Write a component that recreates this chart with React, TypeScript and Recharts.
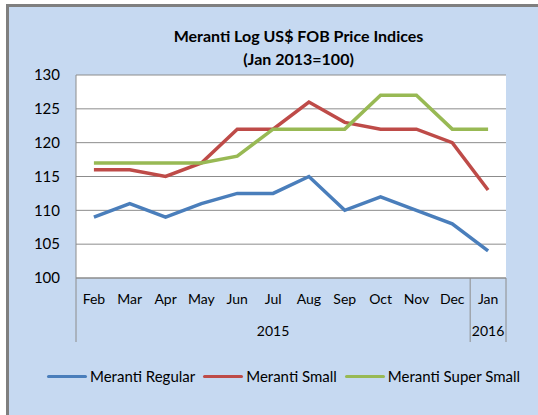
import React from 'react';
import { LineChart, Line, XAxis, YAxis, CartesianGrid } from 'recharts';

const months = ['Feb', 'Mar', 'Apr', 'May', 'Jun', 'Jul', 'Aug', 'Sep', 'Oct', 'Nov', 'Dec', 'Jan'];
const years = ['2015', '2015', '2015', '2015', '2015', '2015', '2015', '2015', '2015', '2015', '2015', '2016'];
const merantiRegular = [109, 111, 109, 111, 112.5, 112.5, 115, 110, 112, 110, 108, 104];
const merantiSmall = [116, 116, 115, 117, 122, 122, 126, 123, 122, 122, 120, 113];
const merantiSuperSmall = [117, 117, 117, 117, 118, 122, 122, 122, 127, 127, 122, 122];
const yTicks = [100, 105, 110, 115, 120, 125, 130];

const series = [
  { key: 'regular', name: 'Meranti Regular', color: '#4A7EBB' },
  { key: 'small', name: 'Meranti Small', color: '#BE4B48' },
  { key: 'superSmall', name: 'Meranti Super Small', color: '#98B954' },
];

const data = months.map((m, i) => ({
  month: m,
  year: years[i],
  regular: merantiRegular[i],
  small: merantiSmall[i],
  superSmall: merantiSuperSmall[i],
}));

const FONT = 'Lato, "Noto Sans", sans-serif';
const AXIS_GRAY = '#8c8c8c';

const MonthTick = (props: any) => {
  const { x, y, payload } = props;
  return (
    <text x={x} y={y} dy={26} textAnchor="middle" fontSize={14} fontFamily={FONT} fill="#000">
      {payload.value}
    </text>
  );
};

// year row: label in the middle of each group, separators at group edges
const YearTick = (props: any) => {
  const { x, y, index, payload } = props;
  const half = payload.offset || 0;
  const yr = years[index];
  const start = years.indexOf(yr);
  const end = years.lastIndexOf(yr);
  const mid = (start + end) / 2;
  const els: React.ReactNode[] = [];
  if (index === start) {
    els.push(<line key="l" x1={x - half} x2={x - half} y1={y - 32} y2={y + 32} stroke={AXIS_GRAY} />);
  }
  if (index === years.length - 1) {
    els.push(<line key="r" x1={x + half} x2={x + half} y1={y - 32} y2={y + 32} stroke={AXIS_GRAY} />);
  }
  if (index === Math.ceil(mid)) {
    const tx = index === mid ? x : x - half;
    els.push(
      <text key="t" x={tx} y={y} dy={26} textAnchor="middle" fontSize={14} fontFamily={FONT} fill="#000">
        {yr}
      </text>
    );
  }
  return <g>{els}</g>;
};

const ChartLegend = () => (
  <div
    style={{
      position: 'absolute',
      left: 47,
      top: 366,
      display: 'flex',
      alignItems: 'center',
      fontFamily: FONT,
      fontSize: 15,
      lineHeight: '20px',
      color: '#000',
    }}
  >
    {series.map((s) => (
      <div key={s.key} style={{ display: 'flex', alignItems: 'center', marginRight: 8 }}>
        <div style={{ width: 40, height: 3, background: s.color, marginRight: 3, borderRadius: 2 }} />
        <span>{s.name}</span>
      </div>
    ))}
  </div>
);

export default function App() {
  return (
    <div style={{ position: 'absolute', left: 0, top: 0, width: 538, height: 415, overflow: 'hidden' }}>
      <div
        style={{
          position: 'absolute',
          left: 6,
          top: 4,
          width: 540,
          height: 420,
          background: '#C6D9F1',
          borderLeft: '3px solid #7f7f7f',
          borderTop: '3px solid #7f7f7f',
        }}
      />
      <div
        style={{
          position: 'absolute',
          left: 0,
          top: 24,
          width: 597,
          textAlign: 'center',
          fontFamily: FONT,
          fontWeight: 700,
          fontSize: 16,
          lineHeight: '23px',
          color: '#000',
        }}
      >
        Meranti Log US$ FOB Price Indices
        <br />
        (Jan 2013=100)
      </div>
      <div style={{ position: 'absolute', left: 0, top: 0 }}>
        <LineChart width={538} height={415} data={data} margin={{ top: 75, right: 32, bottom: 73, left: 0 }}>
          <CartesianGrid vertical={false} stroke={AXIS_GRAY} fill="#ffffff" />
          <YAxis
            width={76}
            domain={[100, 130]}
            ticks={yTicks}
            interval={0}
            tickLine={false}
            tickSize={0}
            tickMargin={16}
            axisLine={{ stroke: AXIS_GRAY }}
            tick={{ fontSize: 15, fontFamily: FONT, fill: '#000' }}
          />
          <XAxis
            dataKey="month"
            scale="band"
            height={32}
            interval={0}
            tickLine={false}
            tickSize={0}
            tickMargin={0}
            axisLine={{ stroke: AXIS_GRAY }}
            tick={<MonthTick />}
          />
          <XAxis
            xAxisId="year"
            dataKey="month"
            scale="band"
            height={32}
            interval={0}
            tickLine={false}
            tickSize={0}
            tickMargin={0}
            axisLine={false}
            tick={<YearTick />}
          />
          {series.map((s) => (
            <Line
              key={s.key}
              type="linear"
              dataKey={s.key}
              name={s.name}
              stroke={s.color}
              strokeWidth={3.5}
              dot={false}
              activeDot={false}
              isAnimationActive={false}
            />
          ))}
        </LineChart>
      </div>
      <ChartLegend />
    </div>
  );
}
